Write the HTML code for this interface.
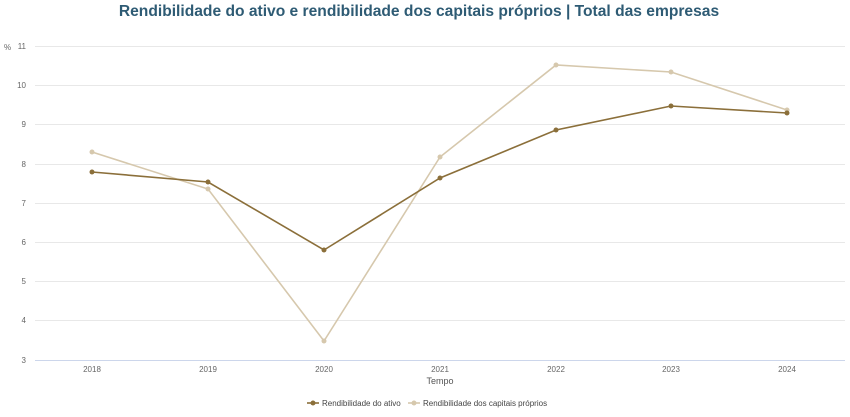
<!DOCTYPE html>
<html><head><meta charset="utf-8"><style>
body{margin:0;background:#fff;width:850px;height:412px;overflow:hidden}
text{font-family:"Liberation Sans",sans-serif}
</style></head><body>
<svg width="850" height="412" xmlns="http://www.w3.org/2000/svg">
<text x="419" y="16" text-anchor="middle" font-size="15.6" font-weight="bold" fill="#2e5b74">Rendibilidade do ativo e rendibilidade dos capitais próprios | Total das empresas</text>
<g stroke="#e8e8e8" stroke-width="1">
<line x1="35" x2="845" y1="46.5" y2="46.5"/><line x1="35" x2="845" y1="85.5" y2="85.5"/>
<line x1="35" x2="845" y1="124.5" y2="124.5"/><line x1="35" x2="845" y1="164.5" y2="164.5"/>
<line x1="35" x2="845" y1="203.5" y2="203.5"/><line x1="35" x2="845" y1="242.5" y2="242.5"/>
<line x1="35" x2="845" y1="281.5" y2="281.5"/><line x1="35" x2="845" y1="320.5" y2="320.5"/>
</g>
<line x1="35" x2="845" y1="360.5" y2="360.5" stroke="#ccd6eb"/>
<g font-size="8" fill="#666" text-anchor="end">
<text x="26" y="49">11</text><text x="26" y="88">10</text><text x="26" y="127">9</text><text x="26" y="167">8</text>
<text x="26" y="206">7</text><text x="26" y="245">6</text><text x="26" y="284">5</text><text x="26" y="323">4</text><text x="26" y="363">3</text>
</g>
<text x="4" y="50" font-size="8" fill="#666">%</text>
<g font-size="8" fill="#666" text-anchor="middle">
<text x="92" y="372">2018</text><text x="208" y="372">2019</text><text x="324" y="372">2020</text><text x="440" y="372">2021</text>
<text x="556" y="372">2022</text><text x="671" y="372">2023</text><text x="787" y="372">2024</text>
<text x="440" y="384" font-size="9" fill="#555">Tempo</text>
</g>
<polyline fill="none" stroke="#d6c8ad" stroke-width="1.6" points="92,152 208,189 324,341 440,157 556,65 671,72 787,110"/>
<g fill="#d6c8ad"><circle cx="92" cy="152" r="2.5"/><circle cx="208" cy="189" r="2.5"/><circle cx="324" cy="341" r="2.5"/><circle cx="440" cy="157" r="2.5"/><circle cx="556" cy="65" r="2.5"/><circle cx="671" cy="72" r="2.5"/><circle cx="787" cy="110" r="2.5"/></g>
<polyline fill="none" stroke="#8b6f3a" stroke-width="1.6" points="92,172 208,182 324,250 440,178 556,130 671,106 787,113"/>
<g fill="#8b6f3a"><circle cx="92" cy="172" r="2.5"/><circle cx="208" cy="182" r="2.5"/><circle cx="324" cy="250" r="2.5"/><circle cx="440" cy="178" r="2.5"/><circle cx="556" cy="130" r="2.5"/><circle cx="671" cy="106" r="2.5"/><circle cx="787" cy="113" r="2.5"/></g>
<line x1="307" x2="319" y1="403" y2="403" stroke="#8b6f3a" stroke-width="1.6"/><circle cx="313" cy="403" r="2.5" fill="#8b6f3a"/>
<text x="322" y="406" font-size="8" fill="#444">Rendibilidade do ativo</text>
<line x1="408" x2="420" y1="403" y2="403" stroke="#d6c8ad" stroke-width="1.6"/><circle cx="414" cy="403" r="2.5" fill="#d6c8ad"/>
<text x="423" y="406" font-size="8" fill="#444">Rendibilidade dos capitais próprios</text>
</svg>
</body></html>
